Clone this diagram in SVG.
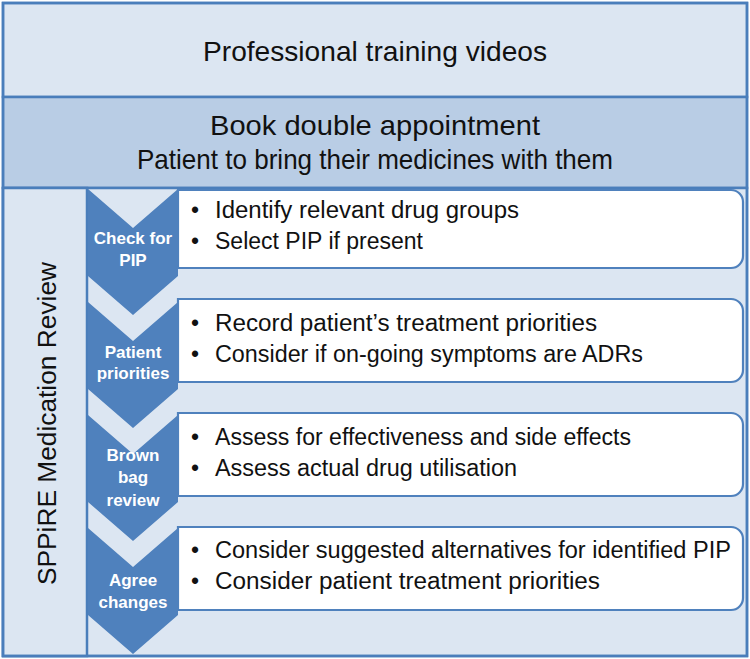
<svg xmlns="http://www.w3.org/2000/svg" width="750" height="659" viewBox="0 0 750 659">
  <style>
    .sec { stroke: #4a7ebb; stroke-width: 2.5; }
    .light { fill: #dce6f2; }
    .mid { fill: #b9cde5; }
    .hdr { font-family: "Liberation Sans", Arial, sans-serif; font-size: 28px; fill: #111; text-anchor: middle; }
    .vert { font-family: "Liberation Sans", Arial, sans-serif; font-size: 26px; fill: #111; text-anchor: middle; }
    .box { fill: #ffffff; stroke: #4f81bd; stroke-width: 2.2; }
    .chev { fill: #4f81bd; }
    .clab { font-family: "Liberation Sans", Arial, sans-serif; font-size: 17px; font-weight: bold; fill: #ffffff; text-anchor: middle; }
    .bul { font-family: "Liberation Sans", Arial, sans-serif; font-size: 23px; fill: #111; }
  </style>
  <rect x="0" y="0" width="750" height="659" fill="#ffffff"/>

  <g id="training">
    <rect class="sec light" x="3" y="3" width="744" height="94"/>
    <text class="hdr" x="375" y="61" textLength="344" lengthAdjust="spacingAndGlyphs">Professional training videos</text>
  </g>

  <g id="appointment">
    <rect class="sec mid" x="3" y="97" width="744" height="91"/>
    <text class="hdr" x="375" y="135" textLength="330" lengthAdjust="spacingAndGlyphs">Book double appointment</text>
    <text class="hdr" x="375" y="169" textLength="476" lengthAdjust="spacingAndGlyphs">Patient to bring their medicines with them</text>
  </g>

  <g id="review">
    <rect class="sec light" x="3" y="188" width="744" height="468"/>
    <rect class="sec light" x="3" y="188" width="84" height="468"/>
    <text class="vert" transform="translate(56,423.5) rotate(-90)" textLength="323" lengthAdjust="spacingAndGlyphs">SPPiRE Medication Review</text>
  </g>

  <g id="connectors"></g>

  <g id="step1">
    <path class="box" d="M178,190 H731 A12,12 0 0 1 743,202 V256 A12,12 0 0 1 731,268 H178 Z"/>
    <path class="chev" d="M88,189 L133,228 L178,189 L178,276 L133,315 L88,276 Z"/>
    <text class="clab" x="133" y="244">Check for</text>
    <text class="clab" x="133" y="266">PIP</text>
    <text class="bul" x="191" y="218">•</text>
    <text class="bul" x="215" y="218" textLength="304" lengthAdjust="spacingAndGlyphs">Identify relevant drug groups</text>
    <text class="bul" x="191" y="249">•</text>
    <text class="bul" x="215" y="249" textLength="208" lengthAdjust="spacingAndGlyphs">Select PIP if present</text>
  </g>

  <g id="step2">
    <path class="box" d="M178,299 H731 A12,12 0 0 1 743,311 V370 A12,12 0 0 1 731,382 H178 Z"/>
    <path class="chev" d="M88,302 L133,341 L178,302 L178,389 L133,428 L88,389 Z"/>
    <text class="clab" x="133" y="358">Patient</text>
    <text class="clab" x="133" y="379">priorities</text>
    <text class="bul" x="191" y="331">•</text>
    <text class="bul" x="215" y="331" textLength="382" lengthAdjust="spacingAndGlyphs">Record patient’s treatment priorities</text>
    <text class="bul" x="191" y="362">•</text>
    <text class="bul" x="215" y="362" textLength="428" lengthAdjust="spacingAndGlyphs">Consider if on-going symptoms are ADRs</text>
  </g>

  <g id="step3">
    <path class="box" d="M178,413 H731 A12,12 0 0 1 743,425 V484 A12,12 0 0 1 731,496 H178 Z"/>
    <path class="chev" d="M88,415 L133,454 L178,415 L178,502 L133,541 L88,502 Z"/>
    <text class="clab" x="133" y="461">Brown</text>
    <text class="clab" x="133" y="483">bag</text>
    <text class="clab" x="133" y="506">review</text>
    <text class="bul" x="191" y="445">•</text>
    <text class="bul" x="215" y="445" textLength="416" lengthAdjust="spacingAndGlyphs">Assess for effectiveness and side effects</text>
    <text class="bul" x="191" y="476">•</text>
    <text class="bul" x="215" y="476" textLength="302" lengthAdjust="spacingAndGlyphs">Assess actual drug utilisation</text>
  </g>

  <g id="step4">
    <path class="box" d="M178,527 H731 A12,12 0 0 1 743,539 V598 A12,12 0 0 1 731,610 H178 Z"/>
    <path class="chev" d="M88,528 L133,567 L178,528 L178,615 L133,654 L88,615 Z"/>
    <text class="clab" x="133" y="586">Agree</text>
    <text class="clab" x="133" y="608">changes</text>
    <text class="bul" x="191" y="558">•</text>
    <text class="bul" x="215" y="558" textLength="516" lengthAdjust="spacingAndGlyphs">Consider suggested alternatives for identified PIP</text>
    <text class="bul" x="191" y="589">•</text>
    <text class="bul" x="215" y="589" textLength="385" lengthAdjust="spacingAndGlyphs">Consider patient treatment priorities</text>
  </g>

  <rect x="3" y="3" width="744" height="653" fill="none" stroke="#4a7ebb" stroke-width="2.5"/>
</svg>
